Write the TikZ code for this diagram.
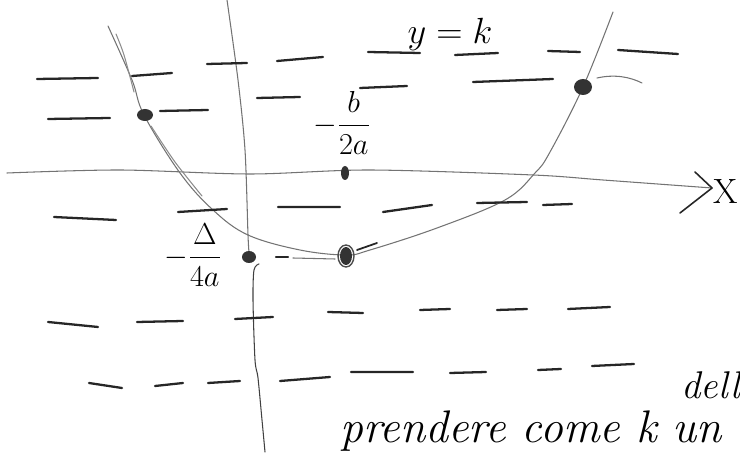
\documentclass[tikz,border=0pt]{standalone}
\begin{document}
\begin{tikzpicture}[x=0.02cm,y=-0.02cm,line cap=round,line join=round,
  pencil/.style={draw=black!55,line width=0.6pt},
  trait/.style={draw=black!85,line width=1.3pt},
  blob/.style={fill=black!80}]
\useasboundingbox (0,0) rectangle (740,455);
\clip (0,0) rectangle (740,455);
% axes
\coordinate (xend) at (712,188);
\draw[pencil] plot[smooth] coordinates {(7,173) (120,170) (250,174) (370,170) (533,175) (603,180) (xend)};
\draw[trait,line width=0.9pt] (695,172) -- (xend) -- (680,213);
\draw[pencil] plot[smooth] coordinates {(227,0) (238,80) (245,150) (248,235) (249,252)};
\draw[pencil,black!75] plot[smooth] coordinates {(259,264) (254,270) (253,300) (255,360) (258,378) (262,420) (265,452)};
% parabola
\draw[pencil] plot[smooth,tension=0.6] coordinates {(108,26) (132,80) (144,115) (180,173) (213,210) (248,235) (300,250) (346,255) (370,250) (437,228) (505,200) (535,173) (550,152) (583,87) (613,12)};
\draw[pencil,black!45] plot[smooth] coordinates {(116,34) (124,55) (134,92)};
\draw[pencil,black!45] plot[smooth] coordinates {(151,126) (175,162) (202,196)};
% dashes y = k
\draw[trait] (37,79) -- (98,78) (132,76) -- (172,73) (207,64) -- (247,63) (277,61) -- (323,57)
  (368,52) -- (420,53) (455,55) -- (498,53) (548,51) -- (580,52) (618,50) -- (678,54);
\draw[trait] (48,119) -- (110,118) (160,111) -- (208,110) (257,98) -- (300,97)
  (360,88) -- (407,86) (473,82) -- (553,79);
\draw[trait] (54,217) -- (116,220) (178,212) -- (227,209) (278,207) -- (340,207)
  (383,212) -- (432,205) (477,203) -- (527,202) (543,205) -- (572,204);
\draw[trait] (276,257) -- (288,257);
\draw[pencil] (293,258) -- (335,259);
\draw[trait] (48,322) -- (98,327) (137,322) -- (183,321) (235,319) -- (273,317) (328,312) -- (363,313)
  (420,310) -- (450,309) (497,310) -- (527,309) (568,309) -- (610,307);
\draw[trait] (89,383) -- (122,388) (155,386) -- (183,383) (208,383) -- (240,381) (280,381) -- (330,377)
  (351,372) -- (413,372) (450,373) -- (486,372) (538,370) -- (561,369) (592,366) -- (634,364);
% points
\fill[blob] (145,115) ellipse [x radius=8,y radius=6];
\fill[blob] (583,87) ellipse [x radius=9,y radius=8];
\fill[blob] (249,257) ellipse [x radius=7,y radius=6];
\fill[blob] (346,256) ellipse [x radius=6,y radius=9];
\draw[black!70,line width=0.8pt] (346,256) ellipse [x radius=8,y radius=11];
\fill[blob] (345,173) ellipse [x radius=4,y radius=7];
\draw[trait,line width=1pt] (357,250) -- (377,243);
\draw[pencil] (597,78) .. controls (615,74) and (630,77) .. (642,83);
% labels
\node (yk) at (450,34) {\fontsize{20}{24}\selectfont $y=k$};
\node (mb) at (342,123) {\fontsize{17}{20}\selectfont $\displaystyle -\frac{b}{2a}$};
\node (md) at (193,255) {\fontsize{17}{20}\selectfont $\displaystyle -\frac{\Delta}{4a}$};
\node[inner sep=0pt] (xl) at (726,192) {\fontsize{20}{24}\selectfont X};
\node[anchor=base west,inner sep=0pt] (txt) at (340,442) {\fontsize{26}{30}\selectfont\itshape prendere come k un};
\node[anchor=base west,inner sep=0pt] (dell) at (681,399) {\fontsize{22}{26}\selectfont\itshape dell};
\end{tikzpicture}
\end{document}
